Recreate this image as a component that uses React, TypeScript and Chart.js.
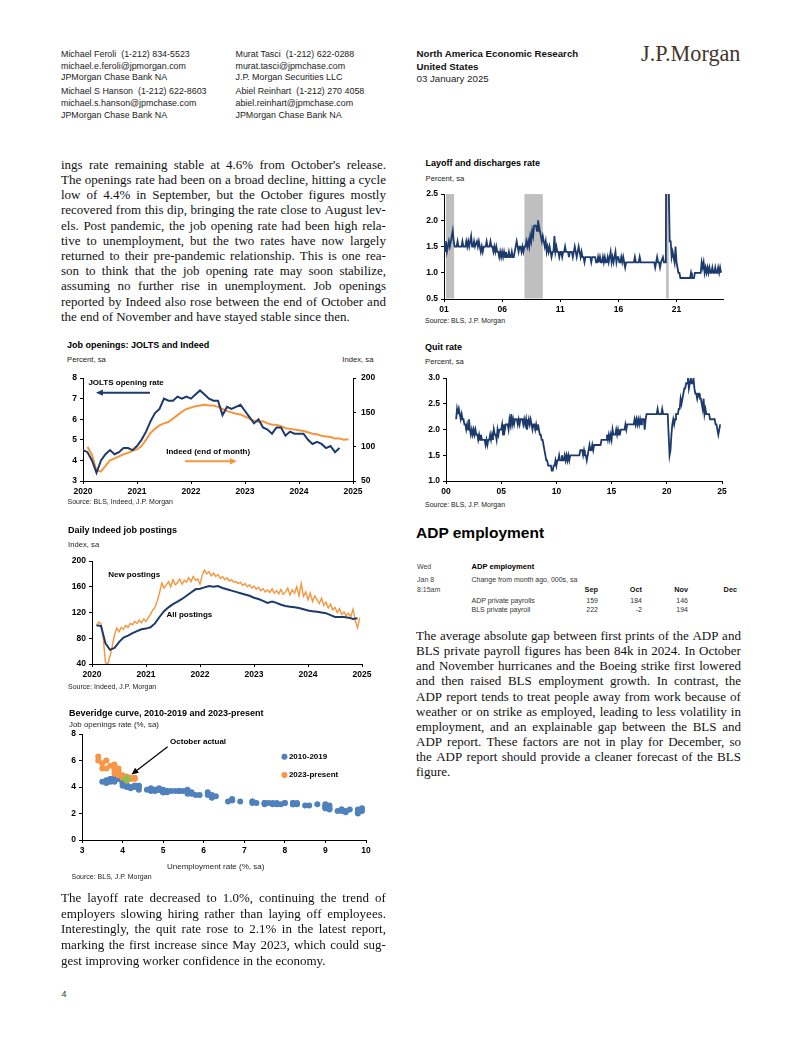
import React, { useEffect, useRef } from 'react';
import { Chart, registerables } from 'chart.js';

Chart.register(...registerables);

const SANS = '"Liberation Sans", Arial, Helvetica, sans-serif';
const SERIF = '"Liberation Serif", "Times New Roman", Times, serif';
Chart.defaults.font.family = SANS;

const NAVY = '#1D3A6C';
const ORANGE = '#F5963E';
const BLUE = '#4F81BD';
const SCAT_ORANGE = '#F79646';
const GREEN = '#8FC04F';
const GREY_BAR = '#BFBFBF';

// ---------------- Chart 1: Job openings: JOLTS and Indeed ----------------
const JOLTS_START = { year: 2020, month: 1 };
const JOLTS_RATE = [
  4.5, 4.4, 4.0, 3.4, 4.0, 4.3, 4.5, 4.3, 4.4, 4.6, 4.6, 4.5,
  4.7, 5.0, 5.4, 5.9, 6.3, 6.5, 7.0, 6.9, 6.9, 7.1, 7.0, 7.1,
  7.0, 7.2, 7.4, 7.2, 7.0, 6.9, 6.9, 6.2, 6.6, 6.5, 6.6, 6.7,
  6.4, 6.1, 5.8, 6.0, 5.6, 5.5, 5.3, 5.6, 5.6, 5.2, 5.4, 5.3,
  5.3, 5.3, 5.0, 4.8, 4.9, 4.8, 4.6, 4.7, 4.4, 4.6,
];
const INDEED_EOM_START = { year: 2020, month: 2 };
const INDEED_EOM = [
  100, 88, 65, 64, 72, 80, 83, 86, 89, 91, 94,
  96, 101, 110, 120, 126, 131, 134, 136, 141, 146, 151, 155,
  157, 159, 160, 161, 160, 160, 158, 155, 152, 150, 148, 147,
  144, 141, 138, 136, 137, 134, 132, 132, 130, 127, 126, 125,
  124, 123, 121, 119, 118, 116, 115, 114, 112, 112, 110, 111,
];

// ---------------- Chart 2: Daily Indeed job postings ----------------
const NEW_POSTINGS_START = 2020 + 1 / 12; // Feb 2020, twice-monthly readings
const NEW_POSTINGS_STEP = 1 / 24;
const NEW_POSTINGS = [
  100, 105, 103, 80, 42, 40, 52, 68, 85, 96, 90, 97, 94, 100, 97, 103, 101, 106, 103, 108, 104, 110,
  106, 112, 117, 124, 128, 138, 150, 166, 158, 163, 168, 160, 171, 163, 166, 172, 164, 170, 167, 174, 168, 176, 170, 172,
  164, 178, 186, 180, 183, 177, 181, 176, 179, 173, 176, 171, 174, 169, 171, 167, 168, 165, 167, 162, 165, 160, 163, 158,
  161, 156, 159, 154, 157, 152, 155, 151, 157, 150, 154, 149, 156, 148, 152, 158, 147, 155, 150, 160, 146, 165, 145, 152,
  140, 150, 137, 146, 140, 134, 142, 131, 136, 127, 133, 124, 128, 120, 126, 117, 121, 115, 119, 113, 125, 108, 96, 112,
];
const ALL_POSTINGS_START = { year: 2020, month: 2 };
const ALL_POSTINGS = [
  100, 99, 72, 62, 65, 74, 81, 84, 88, 91, 94,
  95, 97, 103, 113, 122, 128, 133, 137, 141, 146, 151, 156,
  157, 159, 161, 160, 161, 158, 156, 154, 152, 150, 148, 146,
  143, 141, 138, 135, 137, 135, 132, 130, 129, 128, 127, 125,
  123, 122, 121, 120, 119, 116, 113, 113, 113, 112, 110, 111,
];

// ---------------- Chart 3: Beveridge curve ----------------
const BEV_U_2010 = [
  9.8, 9.8, 9.9, 9.9, 9.6, 9.4, 9.4, 9.5, 9.5, 9.4, 9.8, 9.3,
  9.1, 9.0, 9.0, 9.1, 9.0, 9.1, 9.0, 9.0, 9.0, 8.8, 8.6, 8.5,
  8.3, 8.3, 8.2, 8.2, 8.2, 8.2, 8.2, 8.0, 7.8, 7.8, 7.7, 7.9,
  8.0, 7.7, 7.5, 7.6, 7.5, 7.5, 7.3, 7.2, 7.2, 7.2, 6.9, 6.7,
  6.6, 6.7, 6.7, 6.2, 6.3, 6.1, 6.2, 6.1, 5.9, 5.7, 5.8, 5.6,
  5.7, 5.5, 5.4, 5.4, 5.6, 5.3, 5.2, 5.1, 5.0, 5.0, 5.1, 5.0,
  4.8, 4.9, 5.0, 5.1, 4.8, 4.9, 4.8, 4.9, 5.0, 4.9, 4.7, 4.7,
  4.7, 4.6, 4.4, 4.4, 4.4, 4.3, 4.3, 4.4, 4.3, 4.2, 4.2, 4.1,
  4.0, 4.1, 4.0, 4.0, 3.8, 4.0, 3.8, 3.8, 3.7, 3.8, 3.8, 3.9,
  4.0, 3.8, 3.8, 3.7, 3.6, 3.6, 3.7, 3.6, 3.5, 3.6, 3.6, 3.6,
];
const BEV_JO_2010 = [
  2.0, 2.1, 2.2, 2.4, 2.3, 2.2, 2.3, 2.2, 2.1, 2.3, 2.3, 2.2,
  2.3, 2.4, 2.4, 2.4, 2.5, 2.6, 2.7, 2.5, 2.6, 2.7, 2.6, 2.6,
  2.7, 2.8, 2.8, 2.7, 2.8, 2.7, 2.7, 2.8, 2.7, 2.8, 2.7, 2.7,
  2.8, 2.8, 2.7, 2.8, 2.8, 2.8, 2.8, 2.9, 2.9, 2.8, 2.9, 3.0,
  2.9, 3.0, 3.1, 3.2, 3.3, 3.4, 3.4, 3.6, 3.4, 3.5, 3.4, 3.5,
  3.6, 3.7, 3.7, 3.7, 3.8, 3.7, 3.7, 3.6, 3.6, 3.6, 3.7, 3.6,
  3.8, 3.8, 3.8, 3.7, 3.7, 3.9, 3.8, 3.8, 3.7, 3.8, 3.7, 3.8,
  3.9, 3.8, 3.8, 4.0, 4.1, 4.0, 4.1, 4.1, 4.1, 4.0, 3.9, 4.0,
  4.1, 4.2, 4.3, 4.3, 4.5, 4.5, 4.4, 4.5, 4.6, 4.6, 4.7, 4.6,
  4.6, 4.5, 4.6, 4.6, 4.4, 4.5, 4.4, 4.5, 4.4, 4.4, 4.5, 4.3,
];
const BEV_U_2023 = [3.4, 3.4, 3.5, 3.6, 3.5, 3.6, 3.7, 3.8, 3.8, 3.9, 3.9, 3.8, 3.9, 4.0, 4.0, 4.1, 4.2, 4.3, 4.3, 4.2, 4.1, 4.0];
const BEV_JO_2023 = [6.3, 6.0, 5.8, 6.0, 5.4, 5.4, 5.6, 5.7, 5.3, 5.4, 5.2, 5.0, 4.9, 4.9, 4.8, 4.8, 4.7, 4.7, 4.6, 4.6, 4.5, 4.7];
const OCT_ACTUAL_U = [4.1];
const OCT_ACTUAL_JO = [4.6];

// ---------------- Chart 4: Layoff and discharges rate ----------------
const LAYOFF_START = { year: 2001, month: 1 };
const LAYOFF = [
  1.6, 1.4, 1.6, 1.4, 1.5, 1.6, 1.5, 1.6, 1.7, 1.8, 1.6, 1.5,
  1.5, 1.5, 1.6, 1.5, 1.5, 1.5, 1.5, 1.6, 1.5, 1.5, 1.5, 1.6,
  1.5, 1.6, 1.5, 1.6, 1.7, 1.5, 1.5, 1.6, 1.5, 1.5, 1.6, 1.5,
  1.6, 1.5, 1.4, 1.5, 1.4, 1.5, 1.5, 1.5, 1.6, 1.5, 1.5, 1.5,
  1.6, 1.5, 1.5, 1.4, 1.5, 1.4, 1.5, 1.4, 1.4, 1.3, 1.4, 1.3,
  1.4, 1.3, 1.4, 1.3, 1.4, 1.3, 1.3, 1.4, 1.3, 1.3, 1.4, 1.3,
  1.3, 1.4, 1.5, 1.6, 1.5, 1.4, 1.5, 1.5, 1.4, 1.5, 1.4, 1.5,
  1.5, 1.6, 1.5, 1.6, 1.5, 1.7, 1.6, 1.8, 1.7, 1.9, 1.9, 1.9,
  1.8, 2.0, 1.9, 1.8, 1.7, 1.6, 1.7, 1.6, 1.5, 1.6, 1.4, 1.5,
  1.4, 1.5, 1.4, 1.3, 1.4, 1.4, 1.7, 1.4, 1.5, 1.4, 1.4, 1.3,
  1.4, 1.4, 1.3, 1.4, 1.4, 1.5, 1.4, 1.4, 1.4, 1.3, 1.4, 1.4,
  1.4, 1.3, 1.4, 1.5, 1.4, 1.3, 1.4, 1.5, 1.4, 1.3, 1.4, 1.3,
  1.3, 1.2, 1.3, 1.3, 1.3, 1.3, 1.3, 1.3, 1.2, 1.3, 1.3, 1.3,
  1.3, 1.2, 1.2, 1.3, 1.2, 1.3, 1.2, 1.2, 1.3, 1.2, 1.3, 1.2,
  1.2, 1.3, 1.2, 1.3, 1.4, 1.2, 1.3, 1.2, 1.3, 1.4, 1.2, 1.3,
  1.3, 1.2, 1.2, 1.3, 1.2, 1.3, 1.2, 1.1, 1.2, 1.2, 1.2, 1.2,
  1.2, 1.2, 1.2, 1.2, 1.2, 1.3, 1.2, 1.2, 1.2, 1.2, 1.3, 1.2,
  1.2, 1.2, 1.2, 1.2, 1.2, 1.2, 1.2, 1.2, 1.2, 1.2, 1.2, 1.2,
  1.2, 1.2, 1.1, 1.2, 1.3, 1.2, 1.2, 1.1, 1.2, 1.2, 1.3, 1.2,
  1.2, 1.2, 7.5, 5.9, 2.6, 1.6, 1.6, 1.3, 1.4, 1.3, 1.2, 1.5,
  1.2, 1.1, 1.0, 1.0, 0.9, 0.9, 0.9, 0.9, 0.9, 0.9, 0.9, 0.9,
  0.9, 0.9, 0.9, 1.0, 0.9, 0.9, 0.9, 1.0, 1.0, 1.0, 1.0, 1.0,
  1.0, 1.0, 1.2, 1.1, 1.2, 1.0, 1.1, 1.0, 1.1, 1.0, 1.1, 1.0,
  1.0, 1.1, 1.0, 1.0, 1.1, 1.0, 1.0, 1.1, 1.0, 1.1, 1.0,
];
const RECESSIONS = [
  [2001.17, 2001.87],
  [2007.92, 2009.5],
  [2020.1, 2020.33],
];
const LAYOFF_X_TICKS = [2001, 2006, 2011, 2016, 2021];

// ---------------- Chart 5: Quit rate ----------------
const QUIT_START = { year: 2000, month: 12 };
const QUIT = [
  2.2,
  2.4, 2.3, 2.4, 2.3, 2.2, 2.3, 2.2, 2.2, 2.1, 2.1, 2.0, 2.1,
  2.0, 2.2, 2.0, 1.9, 2.0, 1.9, 2.0, 1.9, 2.0, 1.9, 1.9, 1.8,
  1.9, 1.8, 1.9, 1.8, 1.8, 1.8, 1.8, 1.7, 1.8, 1.7, 1.8, 1.8,
  1.9, 1.8, 1.9, 1.8, 2.0, 1.9, 1.9, 1.8, 2.0, 1.9, 2.0, 2.0,
  2.0, 2.1, 1.9, 2.1, 2.0, 2.1, 2.1, 2.1, 2.0, 2.2, 2.1, 2.3,
  2.1, 2.2, 2.1, 2.2, 2.2, 2.2, 2.1, 2.2, 2.1, 2.2, 2.2, 2.2,
  2.1, 2.2, 2.1, 2.2, 2.0, 2.1, 2.2, 2.1, 2.2, 2.1, 2.0, 2.1,
  2.1, 2.0, 2.1, 2.0, 2.1, 2.0, 1.9, 1.9, 1.8, 1.8, 1.7, 1.6,
  1.5, 1.4, 1.4, 1.3, 1.3, 1.3, 1.3, 1.2, 1.2, 1.3, 1.3, 1.4,
  1.3, 1.4, 1.4, 1.5, 1.4, 1.4, 1.5, 1.4, 1.4, 1.5, 1.4, 1.5,
  1.4, 1.5, 1.4, 1.5, 1.5, 1.5, 1.5, 1.5, 1.5, 1.5, 1.5, 1.5,
  1.5, 1.5, 1.6, 1.6, 1.6, 1.5, 1.6, 1.5, 1.5, 1.4, 1.5, 1.6,
  1.7, 1.6, 1.6, 1.7, 1.6, 1.7, 1.7, 1.7, 1.7, 1.7, 1.7, 1.7,
  1.7, 1.8, 1.8, 1.8, 1.8, 1.8, 1.8, 1.9, 1.8, 1.9, 1.8, 1.9,
  1.8, 2.0, 1.9, 1.9, 1.9, 2.0, 1.9, 2.0, 1.9, 1.9, 2.0, 2.0,
  2.0, 2.0, 2.0, 2.1, 2.0, 2.1, 2.1, 2.1, 2.1, 2.1, 2.1, 2.1,
  2.1, 2.2, 2.1, 2.2, 2.1, 2.2, 2.1, 2.2, 2.1, 2.2, 2.2, 2.2,
  2.0, 2.2, 2.3, 2.3, 2.3, 2.3, 2.3, 2.3, 2.3, 2.3, 2.3, 2.3,
  2.3, 2.3, 2.4, 2.3, 2.3, 2.3, 2.3, 2.4, 2.3, 2.3, 2.3, 2.3,
  2.3, 2.3, 1.9, 1.5, 1.6, 1.9, 2.1, 2.2, 2.1, 2.2, 2.3, 2.3,
  2.3, 2.4, 2.4, 2.6, 2.5, 2.6, 2.7, 2.8, 2.8, 2.9, 2.9, 3.0,
  2.8, 2.9, 3.0, 2.9, 2.9, 3.0, 2.8, 2.7, 2.7, 2.6, 2.7, 2.7,
  2.6, 2.6, 2.5, 2.4, 2.6, 2.3, 2.4, 2.3, 2.3, 2.3, 2.3, 2.2,
  2.2, 2.2, 2.2, 2.2, 2.2, 2.1, 2.1, 2.0, 1.9, 2.0, 2.1,
];

// ---------------- Table ----------------
const ADP_MONTHS = ['Sep', 'Oct', 'Nov', 'Dec'];
const ADP_ROWS = [
  { label: 'ADP private payrolls', values: ['159', '184', '146', ''] },
  { label: 'BLS private payroll', values: ['222', '-2', '194', ''] },
];

// ---------------- helpers ----------------
function monthly(start: { year: number; month: number }, values: number[]) {
  return values.map((v, i) => ({ x: start.year + (start.month - 1 + i) / 12, y: v }));
}
function stepped(start: number, step: number, values: number[]) {
  return values.map((v, i) => ({ x: start + i * step, y: v }));
}
function zipXY(xs: number[], ys: number[]) {
  return xs.map((x, i) => ({ x, y: ys[i] }));
}

const TICK_FONT = { family: SANS, size: 8.5, weight: 'bold' as const };

function axis(o: {
  pos: 'left' | 'right' | 'bottom';
  min: number;
  max: number;
  step?: number;
  size: number;
  fmt: (v: number) => string;
  ticks?: number[];
  pad?: number;
}) {
  const vertical = o.pos !== 'bottom';
  return {
    type: 'linear',
    position: o.pos,
    min: o.min,
    max: o.max,
    afterFit: (s: any) => {
      if (vertical) s.width = o.size;
      else s.height = o.size;
    },
    afterBuildTicks: o.ticks
      ? (s: any) => {
          s.ticks = o.ticks!.map((v) => ({ value: v }));
        }
      : undefined,
    grid: { display: true, drawOnChartArea: false, drawTicks: true, tickLength: 3, color: '#000', lineWidth: 1 },
    border: { display: true, color: '#000', width: 1 },
    ticks: {
      stepSize: o.step,
      callback: (v: any) => o.fmt(Number(v)),
      font: TICK_FONT,
      color: '#000',
      padding: o.pad ?? 3,
      autoSkip: false,
      maxRotation: 0,
      minRotation: 0,
    },
  };
}

type Note =
  | { t: 'text'; x: number; y: number; text: string; size?: number; color?: string; yAxis?: string }
  | { t: 'arrow'; x0: number; y0: number; x1: number; y1: number; color: string; width: number; head: number; yAxis?: string }
  | { t: 'marker'; x: number; y: number; color: string; r: number; yAxis?: string };

function notesPlugin(notes: Note[]) {
  return {
    id: 'notes',
    afterDatasetsDraw(chart: any) {
      const ctx: CanvasRenderingContext2D = chart.ctx;
      const xs = chart.scales.x;
      ctx.save();
      for (const n of notes) {
        const ys = chart.scales[n.yAxis || 'y'];
        if (n.t === 'text') {
          ctx.font = `bold ${n.size || 8}px ${SANS}`;
          ctx.fillStyle = n.color || '#000';
          ctx.textAlign = 'left';
          ctx.textBaseline = 'middle';
          ctx.fillText(n.text, xs.getPixelForValue(n.x), ys.getPixelForValue(n.y));
        } else if (n.t === 'arrow') {
          const ax = xs.getPixelForValue(n.x0);
          const ay = ys.getPixelForValue(n.y0);
          const bx = xs.getPixelForValue(n.x1);
          const by = ys.getPixelForValue(n.y1);
          const ang = Math.atan2(by - ay, bx - ax);
          const hx = bx - n.head * Math.cos(ang);
          const hy = by - n.head * Math.sin(ang);
          ctx.strokeStyle = n.color;
          ctx.lineWidth = n.width;
          ctx.beginPath();
          ctx.moveTo(ax, ay);
          ctx.lineTo(hx, hy);
          ctx.stroke();
          const w = n.head * 0.45;
          ctx.fillStyle = n.color;
          ctx.beginPath();
          ctx.moveTo(bx, by);
          ctx.lineTo(hx + w * Math.sin(ang), hy - w * Math.cos(ang));
          ctx.lineTo(hx - w * Math.sin(ang), hy + w * Math.cos(ang));
          ctx.closePath();
          ctx.fill();
        } else {
          const px = xs.getPixelForValue(n.x);
          const py = ys.getPixelForValue(n.y);
          ctx.fillStyle = n.color;
          ctx.beginPath();
          ctx.arc(px, py, n.r, 0, Math.PI * 2);
          ctx.fill();
        }
      }
      ctx.restore();
    },
  };
}

function shadePlugin(ranges: number[][], color: string) {
  return {
    id: 'shade',
    beforeDatasetsDraw(chart: any) {
      const { ctx, chartArea, scales } = chart;
      ctx.save();
      ctx.fillStyle = color;
      for (const [a, b] of ranges) {
        const x0 = scales.x.getPixelForValue(a);
        const x1 = scales.x.getPixelForValue(b);
        ctx.fillRect(x0, chartArea.top, x1 - x0, chartArea.bottom - chartArea.top - 0.5);
      }
      ctx.restore();
    },
  };
}

function lineDs(data: any[], color: string, width: number, extra: any = {}) {
  return { data, borderColor: color, backgroundColor: color, borderWidth: width, pointRadius: 0, tension: 0, fill: false, ...extra };
}

const BASE_PLUGINS = { legend: { display: false }, tooltip: { enabled: false }, title: { display: false } };

const yr = (v: number) => String(v);
const int = (v: number) => String(Math.round(v));
const one = (v: number) => v.toFixed(1);
const two = (v: number) => String(Math.round(v) % 100).padStart(2, '0');

// ---------------- chart configs ----------------
function joltsConfig(): any {
  return {
    type: 'line',
    data: {
      datasets: [
        lineDs(monthly(INDEED_EOM_START, INDEED_EOM), ORANGE, 2, { yAxisID: 'y1', order: 2 }),
        lineDs(monthly(JOLTS_START, JOLTS_RATE), NAVY, 2, { yAxisID: 'y', order: 1 }),
      ],
    },
    options: {
      responsive: false,
      animation: false,
      layout: { padding: { top: 9, right: 0, left: 0, bottom: 0 } },
      scales: {
        x: axis({ pos: 'bottom', min: 2020, max: 2025, step: 1, size: 17, fmt: yr }),
        y: axis({ pos: 'left', min: 3, max: 8, step: 1, size: 28, fmt: int }),
        y1: axis({ pos: 'right', min: 50, max: 200, step: 50, size: 32, fmt: int, pad: 5 }),
      },
      plugins: BASE_PLUGINS,
    },
    plugins: [
      notesPlugin([
        { t: 'text', x: 2020.1, y: 7.76, text: 'JOLTS opening rate' },
        { t: 'arrow', x0: 2021.24, y0: 7.29, x1: 2020.24, y1: 7.29, color: NAVY, width: 2, head: 7 },
        { t: 'text', x: 2021.54, y: 4.44, text: 'Indeed (end of month)' },
        { t: 'arrow', x0: 2021.89, y0: 3.96, x1: 2022.85, y1: 3.96, color: ORANGE, width: 2, head: 7 },
      ]),
    ],
  };
}

function postingsConfig(): any {
  return {
    type: 'line',
    data: {
      datasets: [
        lineDs(stepped(NEW_POSTINGS_START, NEW_POSTINGS_STEP, NEW_POSTINGS), ORANGE, 1.4, { order: 2 }),
        lineDs(monthly(ALL_POSTINGS_START, ALL_POSTINGS), NAVY, 2, { order: 1 }),
      ],
    },
    options: {
      responsive: false,
      animation: false,
      layout: { padding: { top: 9, right: 18, left: 0, bottom: 0 } },
      scales: {
        x: axis({ pos: 'bottom', min: 2020, max: 2025, step: 1, size: 18, fmt: yr }),
        y: axis({ pos: 'left', min: 40, max: 200, step: 40, size: 37, fmt: int }),
      },
      plugins: BASE_PLUGINS,
    },
    plugins: [
      notesPlugin([
        { t: 'text', x: 2020.3, y: 178.3, text: 'New postings' },
        { t: 'text', x: 2021.38, y: 116.1, text: 'All postings' },
      ]),
    ],
  };
}

function beveridgeConfig(): any {
  const pt = (color: string, r: number, style: string, order: number) => ({
    showLine: false,
    pointStyle: style,
    pointRadius: r,
    pointBackgroundColor: color,
    pointBorderColor: color,
    borderColor: color,
    backgroundColor: color,
    pointBorderWidth: 0,
    order,
  });
  return {
    type: 'scatter',
    data: {
      datasets: [
        { data: zipXY(BEV_U_2010, BEV_JO_2010), ...pt(BLUE, 3, 'circle', 3) },
        { data: zipXY(BEV_U_2023, BEV_JO_2023), ...pt(SCAT_ORANGE, 3, 'circle', 2) },
        { data: zipXY(OCT_ACTUAL_U, OCT_ACTUAL_JO), ...pt(GREEN, 5, 'rectRot', 1) },
      ],
    },
    options: {
      responsive: false,
      animation: false,
      layout: { padding: { top: 8, right: 14, left: 0, bottom: 0 } },
      scales: {
        x: axis({ pos: 'bottom', min: 3, max: 10, step: 1, size: 18, fmt: int }),
        y: axis({ pos: 'left', min: 0, max: 8, step: 2, size: 27, fmt: int }),
      },
      plugins: BASE_PLUGINS,
    },
    plugins: [
      notesPlugin([
        { t: 'text', x: 5.17, y: 7.42, text: 'October actual' },
        { t: 'arrow', x0: 5.11, y0: 7.04, x1: 4.22, y1: 4.95, color: '#000', width: 1.2, head: 7 },
        { t: 'marker', x: 7.99, y: 6.29, color: BLUE, r: 3 },
        { t: 'text', x: 8.1, y: 6.29, text: '2010-2019' },
        { t: 'marker', x: 7.99, y: 4.91, color: SCAT_ORANGE, r: 3 },
        { t: 'text', x: 8.1, y: 4.91, text: '2023-present' },
      ]),
    ],
  };
}

function layoffConfig(): any {
  return {
    type: 'line',
    data: { datasets: [lineDs(monthly(LAYOFF_START, LAYOFF), NAVY, 1.8, { clip: 0 })] },
    options: {
      responsive: false,
      animation: false,
      layout: { padding: { top: 8, right: 17, left: 0, bottom: 0 } },
      scales: {
        x: axis({ pos: 'bottom', min: 2001, max: 2025, size: 17, fmt: two, ticks: LAYOFF_X_TICKS }),
        y: axis({ pos: 'left', min: 0.5, max: 2.5, step: 0.5, size: 29, fmt: one }),
      },
      plugins: BASE_PLUGINS,
    },
    plugins: [shadePlugin(RECESSIONS, GREY_BAR)],
  };
}

function quitConfig(): any {
  return {
    type: 'line',
    data: { datasets: [lineDs(monthly(QUIT_START, QUIT), NAVY, 1.8)] },
    options: {
      responsive: false,
      animation: false,
      layout: { padding: { top: 8, right: 18, left: 0, bottom: 0 } },
      scales: {
        x: axis({ pos: 'bottom', min: 2000, max: 2025, step: 5, size: 17, fmt: two }),
        y: axis({ pos: 'left', min: 1, max: 3, step: 0.5, size: 31, fmt: one }),
      },
      plugins: BASE_PLUGINS,
    },
  };
}

// ---------------- components ----------------
function ChartBox({ left, top, width, height, make }: { left: number; top: number; width: number; height: number; make: () => any }) {
  const ref = useRef<HTMLCanvasElement>(null);
  useEffect(() => {
    const chart = new Chart(ref.current as HTMLCanvasElement, make());
    return () => chart.destroy();
  }, []);
  return (
    <div style={{ position: 'absolute', left, top, width, height }}>
      <canvas ref={ref} width={width} height={height} style={{ width, height, display: 'block' }} />
    </div>
  );
}

function Txt(props: {
  x: number;
  y: number;
  children: React.ReactNode;
  size?: number;
  bold?: boolean;
  font?: string;
  color?: string;
  align?: 'left' | 'right' | 'center';
}) {
  const size = props.size ?? 9;
  const h = Math.round(size * 1.25);
  const style: any = {
    position: 'absolute',
    top: props.y - h / 2,
    height: h,
    lineHeight: h + 'px',
    fontFamily: props.font ?? SANS,
    fontSize: size,
    fontWeight: props.bold ? 700 : 400,
    color: props.color ?? '#222',
    whiteSpace: 'pre',
  };
  if (props.align === 'right') style.right = 802 - props.x;
  else if (props.align === 'center') {
    style.left = props.x;
    style.transform = 'translateX(-50%)';
  } else style.left = props.x;
  return <div style={style}>{props.children}</div>;
}

function Para({ x, y, width, lh, lines }: { x: number; y: number; width: number; lh: number; lines: string[] }) {
  return (
    <div style={{ position: 'absolute', left: x, top: y - lh / 2, width, fontFamily: SERIF, fontSize: 13, lineHeight: lh + 'px', color: '#111' }}>
      {lines.map((ln, i) =>
        i === lines.length - 1 ? (
          <div key={i} style={{ height: lh, whiteSpace: 'nowrap' }}>{ln}</div>
        ) : (
          <div key={i} style={{ height: lh, display: 'flex', justifyContent: 'space-between', whiteSpace: 'nowrap' }}>
            {ln.split(' ').map((w, j) => (
              <span key={j}>{w}</span>
            ))}
          </div>
        )
      )}
    </div>
  );
}

const PARA_TOP = [
  "ings rate remaining stable at 4.6% from October's release.",
  'The openings rate had been on a broad decline, hitting a cycle',
  'low of 4.4% in September, but the October figures mostly',
  'recovered from this dip, bringing the rate close to August lev-',
  'els. Post pandemic, the job opening rate had been high rela-',
  'tive to unemployment, but the two rates have now largely',
  'returned to their pre-pandemic relationship. This is one rea-',
  'son to think that the job opening rate may soon stabilize,',
  'assuming no further rise in unemployment. Job openings',
  'reported by Indeed also rose between the end of October and',
  'the end of November and have stayed stable since then.',
];
const PARA_BOTTOM = [
  'The layoff rate decreased to 1.0%, continuing the trend of',
  'employers slowing hiring rather than laying off employees.',
  'Interestingly, the quit rate rose to 2.1% in the latest report,',
  'marking the first increase since May 2023, which could sug-',
  'gest improving worker confidence in the economy.',
];
const PARA_RIGHT = [
  'The average absolute gap between first prints of the ADP and',
  'BLS private payroll figures has been 84k in 2024. In October',
  'and November hurricanes and the Boeing strike first lowered',
  'and then raised BLS employment growth. In contrast, the',
  'ADP report tends to treat people away from work because of',
  'weather or on strike as employed, leading to less volatility in',
  'employment, and an explainable gap between the BLS and',
  'ADP report. These factors are not in play for December, so',
  'the ADP report should provide a cleaner forecast of the BLS',
  'figure.',
];

export default function App() {
  const col1 = [
    'Michael Feroli  (1-212) 834-5523',
    'michael.e.feroli@jpmorgan.com',
    'JPMorgan Chase Bank NA',
    'Michael S Hanson  (1-212) 622-8603',
    'michael.s.hanson@jpmchase.com',
    'JPMorgan Chase Bank NA',
  ];
  const col2 = [
    'Murat Tasci  (1-212) 622-0288',
    'murat.tasci@jpmchase.com',
    'J.P. Morgan Securities LLC',
    'Abiel Reinhart  (1-212) 270 4058',
    'abiel.reinhart@jpmchase.com',
    'JPMorgan Chase Bank NA',
  ];
  const headY = [54.3, 66, 77.7, 91.7, 103.4, 115];
  const colX = [598, 642, 688, 737];
  return (
    <div style={{ position: 'absolute', left: 0, top: 0, width: 802, height: 1037, background: '#fff', overflow: 'hidden' }}>
      {col1.map((t, i) => (
        <Txt key={'a' + i} x={61} y={headY[i]} size={8.9}>{t}</Txt>
      ))}
      {col2.map((t, i) => (
        <Txt key={'b' + i} x={235.5} y={headY[i]} size={8.9}>{t}</Txt>
      ))}
      <Txt x={416.5} y={54} size={9.7} bold color="#111">North America Economic Research</Txt>
      <Txt x={416.5} y={66.8} size={9.7} bold color="#111">United States</Txt>
      <Txt x={416.5} y={79} size={9.7}>03 January 2025</Txt>
      <Txt x={641} y={54} size={22.2} font={SERIF} color="#45352A">J.P.Morgan</Txt>

      <Para x={61} y={164.5} width={325} lh={15.2} lines={PARA_TOP} />

      {/* Chart 1 */}
      <Txt x={67} y={345} size={9} bold color="#000">Job openings: JOLTS and Indeed</Txt>
      <Txt x={67} y={360} size={7.7} color="#222">Percent, sa</Txt>
      <Txt x={373.5} y={360} size={7.7} color="#222" align="right">Index, sa</Txt>
      <ChartBox left={55} top={368} width={330} height={130} make={joltsConfig} />
      <Txt x={67.5} y={501} size={7} color="#222">Source: BLS, Indeed, J.P. Morgan</Txt>

      {/* Chart 2 */}
      <Txt x={68} y={530} size={9} bold color="#000">Daily Indeed job postings</Txt>
      <Txt x={68} y={544.5} size={7.7} color="#222">Index, sa</Txt>
      <ChartBox left={55} top={552} width={325} height={130} make={postingsConfig} />
      <Txt x={68} y={686} size={7} color="#222">Source: Indeed, J.P. Morgan</Txt>

      {/* Chart 3 */}
      <Txt x={69} y={713.5} size={9} bold color="#000">Beveridge curve, 2010-2019 and 2023-present</Txt>
      <Txt x={69} y={725} size={7.9} color="#222">Job openings rate (%, sa)</Txt>
      <ChartBox left={55} top={726} width={325} height={132} make={beveridgeConfig} />
      <Txt x={215.7} y={866.5} size={8} color="#222" align="center">Unemployment rate (%, sa)</Txt>
      <Txt x={71.5} y={876} size={7} color="#222">Source: BLS, J.P. Morgan</Txt>

      <Para x={61} y={897.7} width={325} lh={15.8} lines={PARA_BOTTOM} />
      <Txt x={61.5} y={994} size={9} color="#333">4</Txt>

      {/* Chart 4 */}
      <Txt x={425.5} y={163.5} size={9} bold color="#000">Layoff and discharges rate</Txt>
      <Txt x={425.5} y={178.5} size={7.7} color="#222">Percent, sa</Txt>
      <ChartBox left={415} top={186} width={325} height={130} make={layoffConfig} />
      <Txt x={425} y={320} size={7} color="#222">Source: BLS, J.P. Morgan</Txt>

      {/* Chart 5 */}
      <Txt x={425} y={347.5} size={9} bold color="#000">Quit rate</Txt>
      <Txt x={425} y={361.5} size={7.7} color="#222">Percent, sa</Txt>
      <ChartBox left={415} top={370} width={325} height={128} make={quitConfig} />
      <Txt x={425} y={504} size={7} color="#222">Source: BLS, J.P. Morgan</Txt>

      {/* ADP section */}
      <Txt x={416} y={532.5} size={15.5} bold color="#000">ADP employment</Txt>
      <Txt x={417} y={566.7} size={7} color="#444">Wed</Txt>
      <Txt x={417} y={579} size={7} color="#444">Jan 8</Txt>
      <Txt x={417} y={589.7} size={7} color="#444">8:15am</Txt>
      <Txt x={471.5} y={566.7} size={7.6} bold color="#000">ADP employment</Txt>
      <Txt x={471.5} y={579} size={7} color="#333">Change from month ago, 000s, sa</Txt>
      {ADP_MONTHS.map((m, i) => (
        <Txt key={m} x={colX[i]} y={589.7} size={7.3} bold color="#111" align="right">{m}</Txt>
      ))}
      {ADP_ROWS.map((r, ri) => (
        <React.Fragment key={r.label}>
          <Txt x={471.5} y={600 + ri * 9.8} size={7} color="#333">{r.label}</Txt>
          {r.values.map((v, ci) =>
            v ? (
              <Txt key={ci} x={colX[ci]} y={600 + ri * 9.8} size={7} color="#333" align="right">{v}</Txt>
            ) : null
          )}
        </React.Fragment>
      ))}

      <Para x={416} y={635.7} width={325} lh={15.1} lines={PARA_RIGHT} />
    </div>
  );
}
